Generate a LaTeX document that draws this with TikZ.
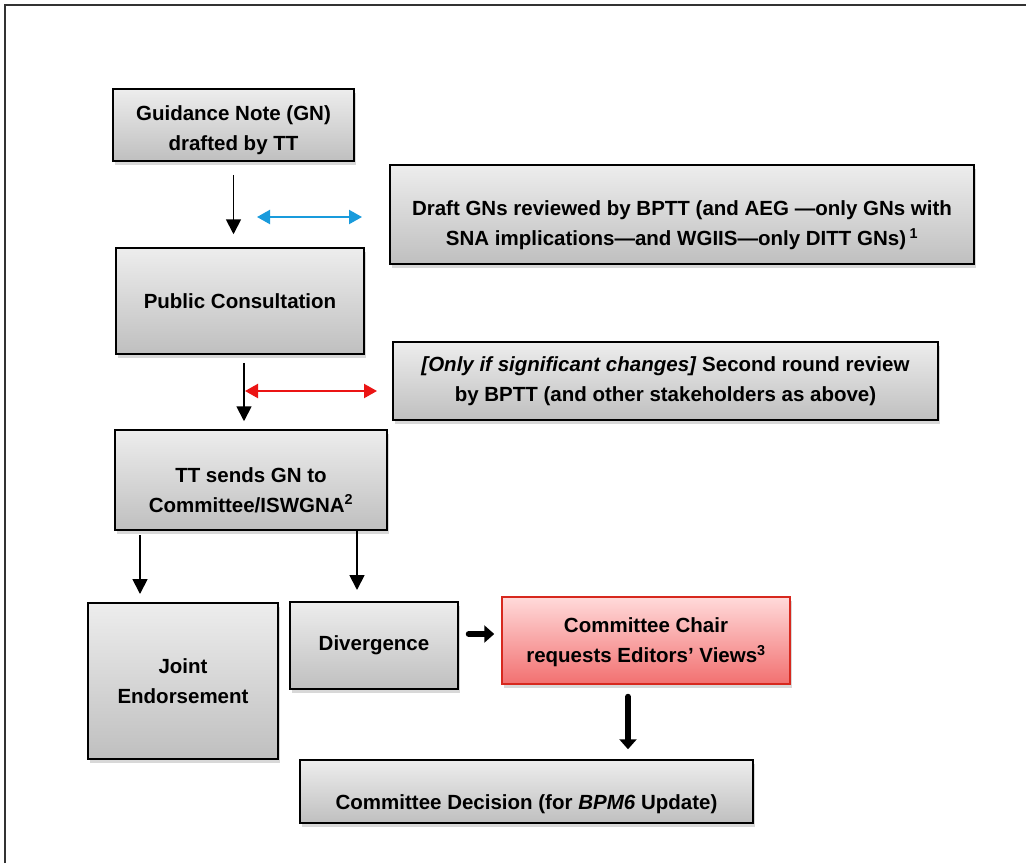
\documentclass[tikz,border=0pt]{standalone}
\usepackage{fontspec}
\setmainfont{Liberation Sans}
\usetikzlibrary{arrows.meta,shadows}
\definecolor{arrblue}{RGB}{25,155,220}
\definecolor{arrred}{RGB}{235,20,20}
\definecolor{redtop}{RGB}{255,218,218}
\definecolor{redbot}{RGB}{242,112,112}
\definecolor{redline}{RGB}{215,40,30}

\begin{document}
\begin{tikzpicture}[x=1pt,y=-1pt,
  gbox/.style={draw,line width=1.5pt,top color=gray!14,bottom color=gray!50,
    align=center,inner sep=0pt,font=\bfseries\fontsize{20.5}{30}\selectfont,
    drop shadow={shadow xshift=2pt,shadow yshift=-4pt,opacity=.3}},
  redbox/.style={gbox,draw=redline,top color=redtop,bottom color=redbot},
  lower/.style={text height=#1},
  arr/.style={-{Triangle[length=15pt,width=15pt]},line width=1.8pt},
  twoway/.style={{Triangle[length=13pt,width=14pt]}-{Triangle[length=13pt,width=14pt]},line width=2.2pt},
  fat/.style={-{Triangle[length=10pt,width=17pt]},line width=6pt,line cap=round}]
\useasboundingbox (0,0) rectangle (1026,863);
\fill[white] (0,0) rectangle (1026,863);
\draw[line width=1.8pt,black!80] (5,863) -- (5,5) -- (1026,5);

\node[gbox,lower=55pt,minimum width=241,minimum height=72] (gn) at (233.5,125)
  {Guidance Note (GN)\\drafted by TT};
\node[gbox,lower=67pt,minimum width=584,minimum height=99] (draft) at (682,214.5)
  {Draft GNs reviewed by BPTT (and AEG \textemdash only GNs with\\
   SNA implications\textemdash and WGIIS\textemdash only DITT GNs)\,\textsuperscript{1}};
\node[gbox,minimum width=248,minimum height=106] (pc) at (240,301)
  {Public Consultation};
\node[gbox,minimum width=545,minimum height=78] (second) at (665.5,381)
  {\textit{[Only if significant changes]} Second round review\\
   by BPTT (and other stakeholders as above)};
\node[gbox,lower=65pt,minimum width=272,minimum height=100] (tt) at (251,480)
  {TT sends GN to\\Committee/ISWGNA\textsuperscript{2}};
\node[gbox,minimum width=190,minimum height=156] (je) at (183,681)
  {Joint\\Endorsement};
\node[gbox,minimum width=168,minimum height=87] (div) at (374,645.5)
  {Divergence};
\node[redbox,lower=49pt,minimum width=288,minimum height=87] (chair) at (646,640.5)
  {Committee Chair\\requests Editors’ Views\textsuperscript{3}};
\node[gbox,lower=40pt,minimum width=453,minimum height=63] (dec) at (526.5,791.5)
  {Committee Decision (for \textit{BPM6} Update)};

% free ends of the connectors
\coordinate (b1) at (257,217);
\coordinate (b2) at (362,217);
\coordinate (r1) at (245,391);
\coordinate (r2) at (377,391);
\coordinate (t1) at (140,535);
\coordinate (t2) at (140,594);
\coordinate (t3) at (357,531);
\coordinate (t4) at (357,590);

\draw[arr,shorten <=13pt,shorten >=13pt] (gn.south) -- (gn.south |- pc.north);
\draw[twoway,arrblue] (b1) -- (b2);
\draw[arr,shorten <=8pt,shorten >=8pt] (pc.south -| 244,0) -- (tt.north -| 244,0);
\draw[twoway,arrred] (r1) -- (r2);
\draw[arr] (t1) -- (t2);
\draw[arr] (t3) -- (t4);
\draw[fat,shorten <=10pt,shorten >=7pt] (div.east |- 0,634) -- (chair.west |- 0,634);
\draw[fat,shorten <=12pt,shorten >=10pt] (chair.south -| 628,0) -- (dec.north -| 628,0);
\end{tikzpicture}
\end{document}
